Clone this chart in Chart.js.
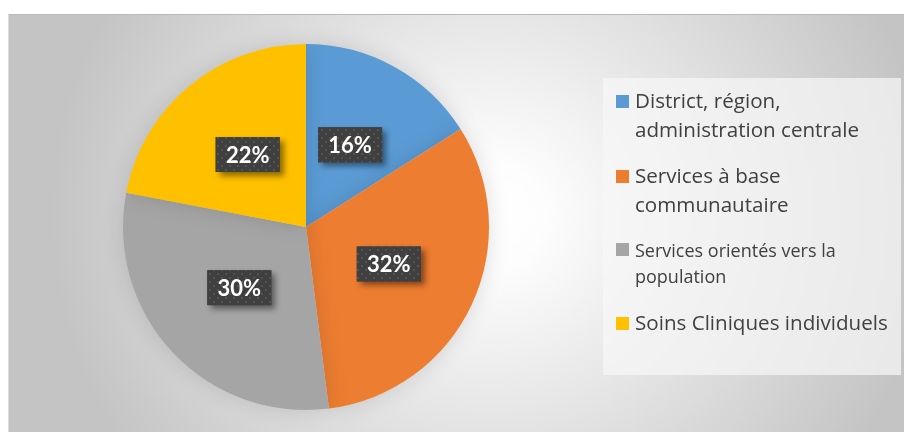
<!DOCTYPE html>
<html>
<head>
<meta charset="utf-8">
<script src="https://cdn.jsdelivr.net/npm/chart.js@4.4.0/dist/chart.umd.min.js"></script>
<style>
  html, body { margin: 0; padding: 0; background: #fff; }
  body { width: 904px; height: 432px; position: relative; overflow: hidden; font-family: "Open Sans", Lato, sans-serif; }
  .frame {
    position: absolute; left: 8px; top: 14px; width: 896px; height: 418px;
    border-top: 1px solid #b9b9b9; border-left: 1px solid #dcdcdc;
    background: radial-gradient(ellipse 440px 420px at 482px 200px, #ffffff 0%, #fdfdfd 12%, #c4c4c4 100%);
  }
  #chart { position: absolute; left: 0; top: 0; }
  .legend {
    position: absolute; left: 603px; top: 78px; width: 298px; height: 297px;
    background: rgba(246,246,246,0.72);
  }
  .item { position: absolute; left: 32px; color: #404040; font-size: 20.6px; line-height: 29px; white-space: nowrap; }
  .item .box { position: absolute; left: -19px; top: 9px; width: 13px; height: 13px; }
  .item:nth-child(1) { top: 8px; }
  .item:nth-child(2) { top: 83px; }
  .item:nth-child(3) { top: 159px; font-size: 18px; line-height: 26px; }
  .item:nth-child(3) .box { top: 6px; }
  .item:nth-child(4) { top: 230px; }
</style>
</head>
<body>
<div class="frame"></div>
<canvas id="chart" width="904" height="432"></canvas>
<div class="legend" id="legend"></div>
<script>
const labels = ['District, région, administration centrale', 'Services à base communautaire', 'Services orientés vers la population', 'Soins Cliniques individuels'];
const legendLines = [
  ['District, région,', 'administration centrale'],
  ['Services à base', 'communautaire'],
  ['Services orientés vers la', 'population'],
  ['Soins Cliniques individuels']
];
const values = [16, 32, 30, 22];
const colors = ['#5b9bd5', '#ed7d31', '#a5a5a5', '#ffc000'];

// legende html
const legend = document.getElementById('legend');
legendLines.forEach((lines, i) => {
  const div = document.createElement('div');
  div.className = 'item';
  div.innerHTML = '<span class="box" style="background:' + colors[i] + '"></span>' + lines.join('<br>');
  legend.appendChild(div);
});

// motif des étiquettes
function makePattern(ctx) {
  const c = document.createElement('canvas');
  c.width = 8; c.height = 8;
  const p = c.getContext('2d');
  p.fillStyle = '#3f3f3f';
  p.fillRect(0, 0, 8, 8);
  p.fillStyle = '#545454';
  p.fillRect(1, 1, 2, 2);
  p.fillRect(5, 5, 2, 2);
  return ctx.createPattern(c, 'repeat');
}

const pieShadow = {
  id: 'pieShadow',
  beforeDatasetsDraw(chart) {
    const ctx = chart.ctx;
    ctx.save();
    ctx.shadowColor = 'rgba(0,0,0,0.13)';
    ctx.shadowBlur = 22;
  },
  afterDatasetsDraw(chart) {
    chart.ctx.restore();
  }
};

const boxLabels = {
  id: 'boxLabels',
  afterDraw(chart) {
    const ctx = chart.ctx;
    const pattern = makePattern(ctx);
    const meta = chart.getDatasetMeta(0);
    meta.data.forEach((arc, i) => {
      const pos = arc.tooltipPosition();
      const w = 64, h = 35;
      const x = pos.x - w / 2, y = pos.y - 2 - h / 2;
      ctx.save();
      ctx.shadowColor = 'rgba(0,0,0,0.45)';
      ctx.shadowBlur = 6;
      ctx.shadowOffsetX = 4;
      ctx.shadowOffsetY = 4;
      ctx.fillStyle = '#3f3f3f';
      ctx.fillRect(x, y, w, h);
      ctx.restore();
      ctx.save();
      ctx.fillStyle = pattern;
      ctx.fillRect(x, y, w, h);
      ctx.fillStyle = '#ffffff';
      ctx.font = 'bold 22px Lato, "Open Sans", sans-serif';
      ctx.textAlign = 'center';
      ctx.textBaseline = 'middle';
      ctx.fillText(values[i] + '%', pos.x, pos.y - 1);
      ctx.restore();
    });
  }
};

new Chart(document.getElementById('chart'), {
  type: 'pie',
  data: {
    labels: labels,
    datasets: [{
      data: values,
      backgroundColor: colors,
      borderWidth: 0,
      hoverOffset: 0
    }]
  },
  options: {
    responsive: false,
    animation: false,
    layout: { padding: { left: 123, right: 415, top: 44, bottom: 22 } },
    plugins: {
      legend: { display: false },
      tooltip: { enabled: false }
    }
  },
  plugins: [pieShadow, boxLabels]
});
</script>
</body>
</html>
